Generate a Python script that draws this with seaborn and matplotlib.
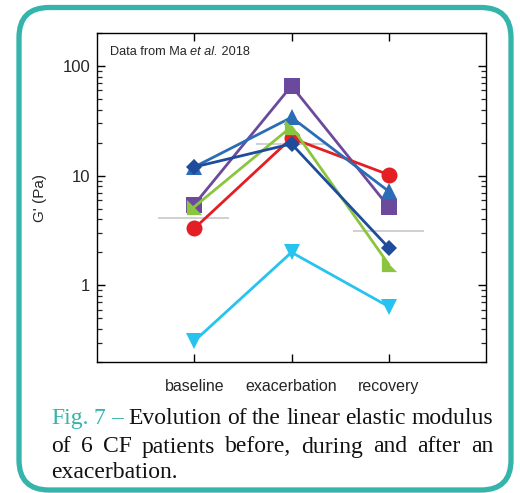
import numpy as np
import pandas as pd
import matplotlib
matplotlib.use("Agg")
import matplotlib.pyplot as plt
import seaborn as sns
from matplotlib.patches import FancyBboxPatch
from matplotlib.transforms import IdentityTransform
from matplotlib.ticker import LogLocator, FixedLocator, FixedFormatter, NullFormatter

# ---------------- data ----------------
phases = ["baseline", "exacerbation", "recovery"]
red_circle = [3.3, 22.0, 10.2]
purple_square = [5.45, 66.0, 5.2]
blue_triangle = [12.0, 34.0, 7.2]
green_triangle = [5.2, 28.0, 1.55]
navy_diamond = [12.0, 19.5, 2.2]
cyan_triangle = [0.31, 2.0, 0.64]
gray_mean = [4.07, 19.5, 3.1]
ytick_values = [1, 10, 100]
ytick_labels = ["1", "10", "100"]

TEAL = "#35B4AB"

sns.set_style("ticks")
plt.rcParams["font.family"] = ["Liberation Sans", "DejaVu Sans"]

W, H = 520, 493
fig = plt.figure(figsize=(W / 100, H / 100), dpi=100)
fig.patch.set_facecolor("white")
ax = fig.add_axes([97 / W, 1 - 362 / H, (486 - 97) / W, (362 - 33) / H])

xpos = np.arange(len(phases))

# gray reference lines (geometric means)
for xi, gm in zip(xpos, gray_mean):
    ax.hlines(gm, xi - 0.37, xi + 0.36, color="#C8C8C8", lw=1.2, zorder=1)

green_marker = [(-1, 1), (-1, -1), (1, -1), (-1, 1)]

series = [
    (purple_square, "#6B4A9E", "s", 12),
    (red_circle, "#E31E24", "o", 11.5),
    (blue_triangle, "#2A6DB6", "^", 11.5),
    (green_triangle, "#8BC540", green_marker, 11),
    (navy_diamond, "#1E4B9B", "D", 8),
    (cyan_triangle, "#27C3F0", "v", 11),
]
for i, (vals, col, mk, ms) in enumerate(series):
    df = pd.DataFrame({"x": xpos, "G": vals})
    sns.lineplot(data=df, x="x", y="G", ax=ax, color=col, marker=mk,
                 markersize=ms, markeredgewidth=0, linewidth=2.0,
                 zorder=3 + i, legend=False)

ax.set_yscale("log")
ax.set_ylim(0.2, 200)
ax.set_xlim(-1.0, 3.0)
ax.yaxis.set_major_locator(FixedLocator(ytick_values))
ax.yaxis.set_major_formatter(FixedFormatter(ytick_labels))
ax.yaxis.set_minor_locator(LogLocator(base=10, subs=np.arange(2, 10)))
ax.yaxis.set_minor_formatter(NullFormatter())
ax.set_xticks(xpos)
ax.set_xticklabels(phases)
ax.set_xlabel("")
ax.set_ylabel("G' (Pa)", fontsize=11, labelpad=11)

for sp in ax.spines.values():
    sp.set_visible(True)
    sp.set_linewidth(1.0)
    sp.set_color("black")

ax.tick_params(axis="both", which="major", direction="in", top=True, right=True,
               length=6, width=1.0, labelsize=11.5, color="black")
ax.tick_params(axis="x", which="major", pad=12)
ax.tick_params(axis="y", which="major", pad=5, labelsize=12)
ax.tick_params(axis="y", which="minor", direction="in", right=True, length=3.5, width=0.9)

renderer = fig.canvas.get_renderer()

# annotation "Data from Ma et al. 2018" (italic "et al.")
note_parts = [("Data from Ma ", "normal"), ("et al.", "italic"), (" 2018", "normal")]
nx, ny = 110, 55
for txt, style in note_parts:
    t = fig.text(nx / W, 1 - ny / H, txt, fontsize=9.2, style=style,
                 ha="left", va="baseline")
    nx += t.get_window_extent(renderer).width

# rounded teal border
border = FancyBboxPatch((19, 3), 511 - 19, 485.5 - 3,
                        boxstyle="round,pad=0,rounding_size=30",
                        transform=IdentityTransform(), facecolor="none",
                        edgecolor=TEAL, linewidth=3.8, zorder=0)
fig.add_artist(border)

# caption, justified
cap_font = dict(family=["Liberation Serif", "DejaVu Serif"], fontsize=17)
lines = [
    ([("Fig.", TEAL), ("7", TEAL), ("\u2013", TEAL)] +
     [(w, "#111111") for w in "Evolution of the linear elastic modulus".split()], 424, True),
    ([(w, "#111111") for w in "of 6 CF patients before, during and after an".split()], 452.5, True),
    ([("exacerbation.", "#111111")], 478, False),
]
x_left, x_right = 51, 493
for words, ybase, justify in lines:
    texts = []
    for w, c in words:
        t = fig.text(0, 1 - ybase / H, w, color=c, va="baseline", ha="left", **cap_font)
        texts.append(t)
    widths = [t.get_window_extent(renderer).width for t in texts]
    if justify and len(texts) > 1:
        gap = (x_right - x_left - sum(widths)) / (len(texts) - 1)
    else:
        gap = 6
    x = x_left
    for t, wdt in zip(texts, widths):
        t.set_x(x / W)
        x += wdt + gap

fig.savefig("out.png", dpi=100)
